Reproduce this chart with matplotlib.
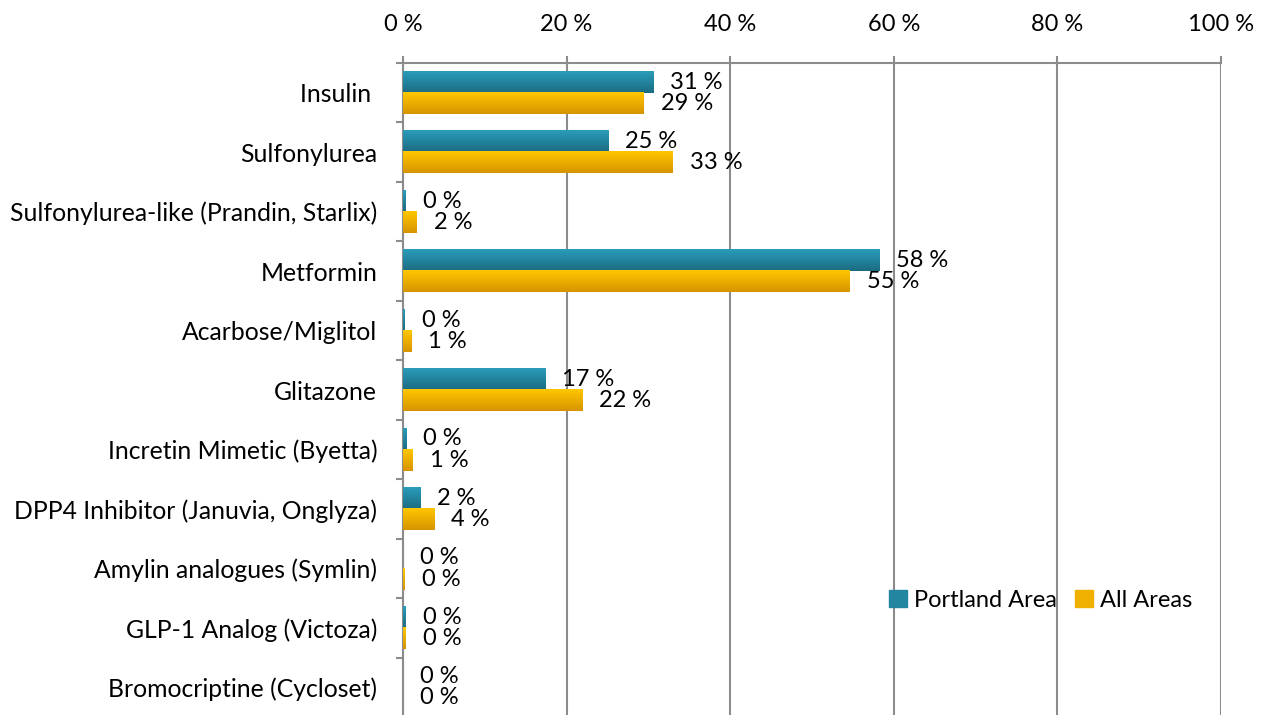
import numpy as np
import matplotlib.pyplot as plt
from matplotlib.colors import to_rgb

plt.rcParams['font.family'] = ['Lato', 'DejaVu Sans']

drugs = ['Insulin ', 'Sulfonylurea', 'Sulfonylurea-like (Prandin, Starlix)', 'Metformin',
         'Acarbose/Miglitol', 'Glitazone', 'Incretin Mimetic (Byetta)',
         'DPP4 Inhibitor (Januvia, Onglyza)', 'Amylin analogues (Symlin)',
         'GLP-1 Analog (Victoza)', 'Bromocriptine (Cycloset)']
portland = [30.6, 25.1, 0.3, 58.2, 0.2, 17.4, 0.4, 2.1, 0.0, 0.3, 0.0]
all_areas = [29.4, 33.0, 1.7, 54.6, 1.0, 21.9, 1.2, 3.8, 0.2, 0.3, 0.0]
series_names = ['Portland Area', 'All Areas']

# top / bottom colours of each series gradient
grad = {'Portland Area': ('#2a9cba', '#1b6c82'),
        'All Areas': ('#ffc600', '#d69500')}

FS = 17


def gradient_img(top, bottom, n=32):
    a, b = np.array(to_rgb(top)), np.array(to_rgb(bottom))
    t = np.linspace(0, 1, n)[:, None]
    return (a * (1 - t) + b * t)[:, None, :]


fig = plt.figure(figsize=(12.63, 7.15), dpi=100)
ax = fig.add_axes([0.319, -0.003, 0.6478, 0.9149])

y = np.arange(len(drugs))
h = 0.355
for vals, name, off in [(portland, series_names[0], -h / 2), (all_areas, series_names[1], h / 2)]:
    top, bot = grad[name]
    img = gradient_img(top, bot)
    for yi, v in zip(y, vals):
        yc = yi + off
        if v > 0:
            ax.imshow(img, extent=(0, v, yc + h / 2, yc - h / 2), origin='upper',
                      aspect='auto', zorder=3, interpolation='bilinear')
        ax.text(v + 2.1, yc, f'{round(v)} %', va='center', ha='left',
                fontsize=FS, color='black', zorder=4)

ax.set_xlim(0, 100)
ax.set_ylim(len(drugs) - 0.5, -0.5)

ax.xaxis.tick_top()
ax.set_xticks(np.arange(0, 101, 20))
ax.set_xticklabels([f'{t} %' for t in range(0, 101, 20)], fontsize=FS)
ax.tick_params(axis='x', length=5, width=1.5, color='#8c8c8c', pad=15)
ax.grid(axis='x', color='#8c8c8c', linewidth=1.5, zorder=0)

ax.set_yticks(y)
ax.set_yticklabels(drugs, fontsize=17.8)
ax.set_yticks(np.arange(-0.5, len(drugs)), minor=True)
ax.tick_params(axis='y', which='major', length=0, pad=18.5)
ax.tick_params(axis='y', which='minor', length=5, width=1.5, color='#8c8c8c')

for s in ['right', 'bottom']:
    ax.spines[s].set_visible(False)
for s in ['top', 'left']:
    ax.spines[s].set_color('#8c8c8c')
    ax.spines[s].set_linewidth(1.5)

# legend with plain patches in the mid colours
handles = [plt.Rectangle((0, 0), 1, 1, color='#2386a1'),
           plt.Rectangle((0, 0), 1, 1, color='#f0b000')]
ax.legend(handles, series_names, loc='center left', bbox_to_anchor=(0.594, 0.179),
          ncol=2, frameon=False, fontsize=FS, handlelength=0.75, handleheight=0.75,
          handletextpad=0.3, columnspacing=0.8, borderpad=0, borderaxespad=0)

fig.savefig('out.png', dpi=100)
